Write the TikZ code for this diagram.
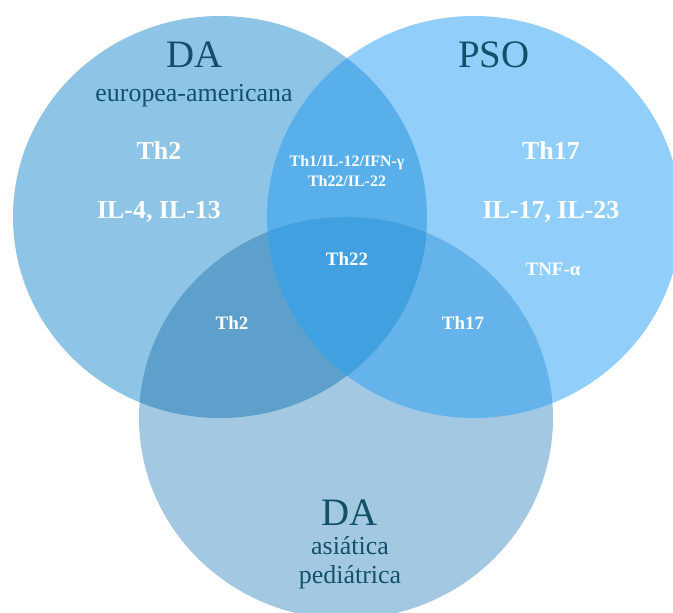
\documentclass[tikz,border=0pt]{standalone}
\usepackage{fontspec}
\setmainfont{Liberation Serif}
\usepackage{tikz}

\definecolor{lcol}{HTML}{8EC4E6}
\definecolor{rcol}{HTML}{92CEFA}
\definecolor{bcol}{HTML}{A3C9E2}
\definecolor{lrcol}{HTML}{58AFEA}
\definecolor{lbcol}{HTML}{5EA0CC}
\definecolor{rbcol}{HTML}{64B4EB}
\definecolor{allcol}{HTML}{40A0E0}
\definecolor{titcol}{HTML}{12506A}

\def\cirL{(220,217) ellipse [x radius=207bp, y radius=201bp]}
\def\cirR{(474,217) ellipse [x radius=207bp, y radius=201bp]}
\def\cirB{(346,418) ellipse [x radius=207bp, y radius=201bp]}

\tikzset{
  bigtit/.style={text=titcol, font=\fontsize{39}{40}\selectfont},
  subtit/.style={text=titcol, font=\fontsize{26}{29}\selectfont, align=center},
  biglab/.style={text=white, font=\bfseries\fontsize{26}{26}\selectfont},
  midlab/.style={text=white, font=\bfseries\fontsize{19}{20}\selectfont},
  smalllab/.style={text=white, font=\bfseries\fontsize{16}{20}\selectfont, align=center}
}

\begin{document}
\begin{tikzpicture}[x=1bp, y=-1bp]
\useasboundingbox (0,0) rectangle (673,613);
\fill[lcol] \cirL;
\fill[rcol] \cirR;
\fill[bcol] \cirB;
\begin{scope}
\clip \cirR;
\fill[rbcol] \cirB;
\end{scope}
\begin{scope}
\clip \cirL;
\fill[lrcol] \cirR;
\fill[lbcol] \cirB;
\clip \cirR;
\fill[allcol] \cirB;
\end{scope}

\node[bigtit] (daeu) at (195,55) {DA};
\node[subtit] (euam) at (194,96) {europea-americana};
\node[bigtit] (pso) at (494,55) {PSO};
\node[bigtit] (daas) at (350,513) {DA};
\node[subtit] (asped) at (350,563) {asiática\\pediátrica};

\node[biglab] (thdos) at (159,151) {Th2};
\node[biglab] (ildos) at (159,212) {IL-4, IL-13};
\node[biglab] (thdiez) at (551,151) {Th17};
\node[biglab] (ildiez) at (551,212) {IL-17, IL-23};
\node[midlab] (tnf) at (553,269) {TNF-α};

\node[smalllab] (lrlab) at (347,171) {Th1/IL-12/IFN-γ\\Th22/IL-22};
\node[midlab] (alllab) at (347,259) {Th22};
\node[midlab] (lblab) at (232,323) {Th2};
\node[midlab] (rblab) at (463,323) {Th17};
\end{tikzpicture}
\end{document}
